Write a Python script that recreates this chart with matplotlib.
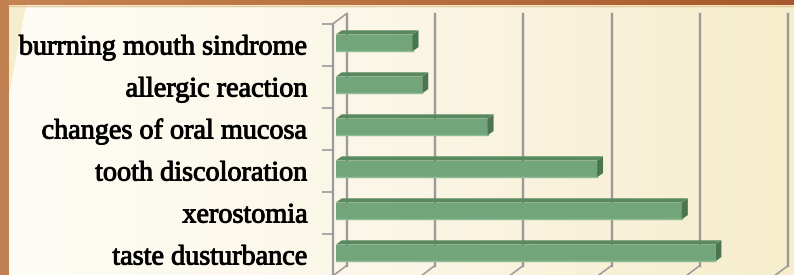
import matplotlib
matplotlib.use("Agg")
import matplotlib.pyplot as plt
import matplotlib.patheffects as pe
import numpy as np
from matplotlib.colors import LinearSegmentedColormap
from matplotlib.patches import Polygon, Rectangle, ConnectionPatch
from matplotlib.transforms import offset_copy

# data (top to bottom, as in the picture)
categories = ["burrning mouth sindrome", "allergic reaction", "changes of oral mucosa",
              "tooth discoloration", "xerostomia", "taste dusturbance"]
values = [8.7, 9.8, 17.2, 29.6, 39.2, 43.0]
x_ticks = [0, 10, 20, 30, 40, 50]

W, H = 794, 275
fig = plt.figure(figsize=(W / 100, H / 100), dpi=100)

# slide background
bg = fig.add_axes([0, 0, 1, 1], zorder=0)
bg.set_axis_off()
grad = np.linspace(0, 1, 256).reshape(1, -1)
cream = LinearSegmentedColormap.from_list("cream", ["#FEFCF5", "#FBF6E6", "#F6EDCC"])
bg.imshow(grad, aspect="auto", cmap=cream, extent=[0, W, H, 0])
bg.add_patch(Polygon([[9, 5], [26, 5], [9, 95]], color="#F6EDCC", lw=0))
rust = LinearSegmentedColormap.from_list("rust", ["#C58352", "#B8703F", "#A8582C"])
bg.imshow(grad, aspect="auto", cmap=rust, extent=[0, W, 5, 0])
bg.plot([9, W], [5.5, 5.5], color="#EAC894", lw=1)
bg.add_patch(Rectangle((0, 0), 9, H, color="#C0804F", lw=0))
bg.set_xlim(0, W); bg.set_ylim(H, 0)

# front plane of the 3d chart
x0, top, bottom, x1 = 332.7, 24, 276, 774.2
ax = fig.add_axes([x0 / W, (H - bottom) / H, (x1 - x0) / W, (bottom - top) / H], zorder=1)
ax.patch.set_alpha(0)
for s in ax.spines.values():
    s.set_visible(False)
ax.set_xlim(0, 50)
ax.set_ylim(5.5, -0.5)

back = offset_copy(ax.transData, fig=fig, x=14, y=10.5, units="dots")
bar_t = offset_copy(ax.transData, fig=fig, x=3, y=2, units="dots")
grid_c = "#9A9A9A"

# back wall gridlines and floor ticks
for xt in x_ticks:
    ax.plot([xt, xt], [-0.5, 5.5], transform=back, color=grid_c, lw=1.7, clip_on=False)
    fig.add_artist(ConnectionPatch((xt, 5.5), (xt, 5.5), coordsA=ax.transData,
                                   coordsB=back, color=grid_c, lw=1.2))
# front value axis
ax.plot([0, 0], [-0.5, 5.5], color=grid_c, lw=1.6, clip_on=False)
fig.add_artist(ConnectionPatch((0, -0.5), (0, -0.5), coordsA=ax.transData,
                               coordsB=back, color=grid_c, lw=1.2))

# bars with 3d faces
h = 0.4
px_x = (x1 - x0) / 50
px_y = (bottom - top) / 6
ddx, ddy = 6 / px_x, 4.3 / px_y
ypos = np.arange(len(categories))
ax.barh(ypos, values, height=h, color="#72A67A", transform=bar_t, zorder=3)
for y, v in zip(ypos, values):
    yt, yb = y - h / 2, y + h / 2
    ax.add_patch(Polygon([[0, yt], [v, yt], [v + ddx, yt - ddy], [ddx, yt - ddy]],
                         closed=True, color="#58895F", lw=0, transform=bar_t, zorder=3))
    ax.add_patch(Polygon([[v, yt], [v, yb], [v + ddx, yb - ddy], [v + ddx, yt - ddy]],
                         closed=True, color="#4A7550", lw=0, transform=bar_t, zorder=3))
    ax.plot([0, v], [yb, yb], color="#8FBC95", lw=1, transform=bar_t, zorder=4)

# category axis
ax.set_xticks([])
ax.set_yticks(np.arange(-0.5, 5.0, 1.0))
ax.set_yticklabels([])
ax.set_yticks(ypos, minor=True)
labels = ax.set_yticklabels(categories, minor=True, fontfamily="Liberation Serif",
                            fontsize=20.3, color="black")
for t in labels:
    t.set_path_effects([pe.withStroke(linewidth=0.7, foreground="black")])
ax.tick_params(axis="y", which="major", length=8, color=grid_c, width=1.2)
ax.tick_params(axis="y", which="minor", length=0, pad=17.8)

fig.savefig("out.png", dpi=100)
